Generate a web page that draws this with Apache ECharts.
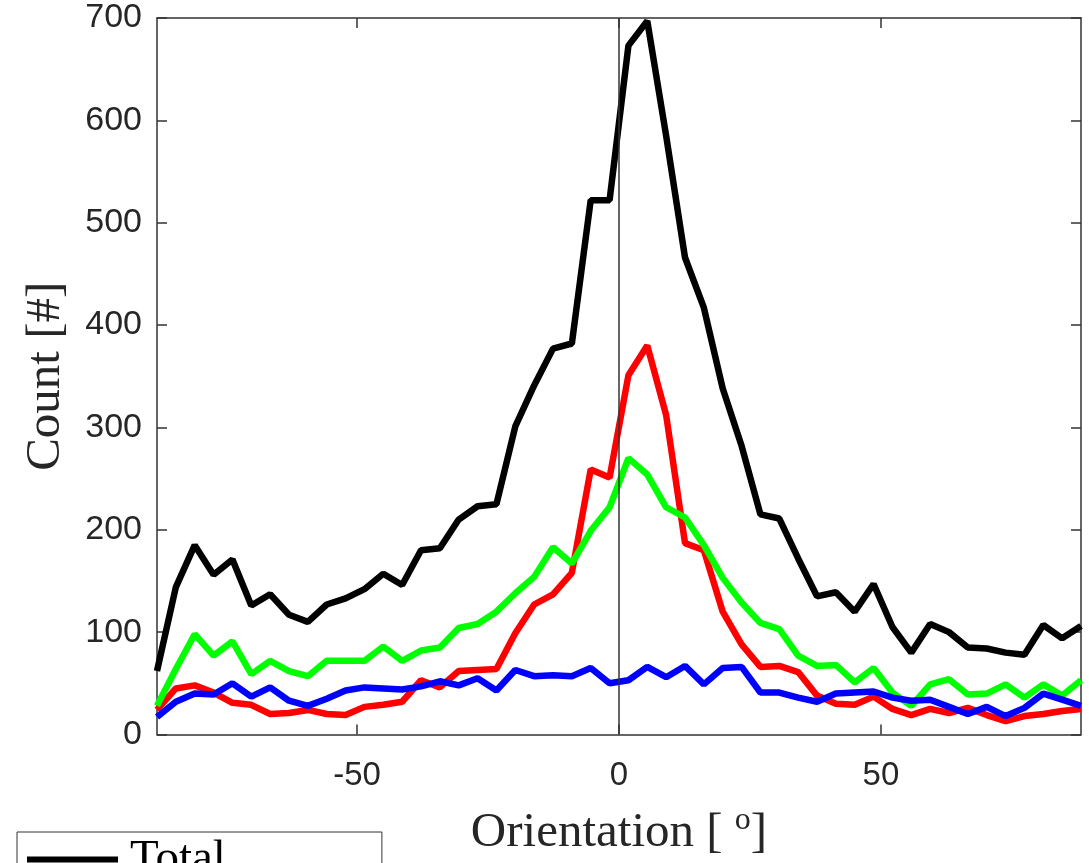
<!DOCTYPE html>
<html>
<head>
<meta charset="utf-8">
<script src="https://cdn.jsdelivr.net/npm/echarts@6/dist/echarts.min.js"></script>
<style>
html,body{margin:0;padding:0;background:#fff;}
#chart{width:1089px;height:863px;}
</style>
</head>
<body>
<div id="chart"></div>
<script>
// Bin centres (orientation, degrees)
const orientation = [-88.2,-84.6,-81,-77.4,-73.8,-70.2,-66.6,-63,-59.4,-55.8,-52.2,-48.6,-45,-41.4,-37.8,-34.2,-30.6,-27,-23.4,-19.8,-16.2,-12.6,-9,-5.4,-1.8,1.8,5.4,9,12.6,16.2,19.8,23.4,27,30.6,34.2,37.8,41.4,45,48.6,52.2,55.8,59.4,63,66.6,70.2,73.8,77.4,81,84.6,88.2];
// Counts
const total = [62,144,185,156,171,126,137,117,110,127,133,142,157,146,180,182,210,223,225,301,341,377,382,522,522,673,697,585,466,417,338,282,215,211,172,135,139,120,147,105,80,108,100,85,84,80,78,107,94,106];
const redVals = [24,45,48,41,31,29,20,21,24,20,19,27,29,32,53,46,62,63,64,99,127,137,158,259,251,351,380,312,187,180,120,88,66,67,61,38,30,29,37,25,19,25,21,26,19,13,18,20,23,25];
const greenVals = [28,64,98,77,91,59,72,62,57,72,72,72,86,72,82,85,104,108,120,138,154,183,167,199,222,270,254,222,212,185,153,129,109,103,77,67,68,51,65,41,28,49,54,39,40,49,36,49,38,53];
const blueVals = [17,32,40,39,50,37,46,33,28,35,43,46,45,44,47,52,48,55,43,63,57,58,57,65,50,53,66,56,67,49,65,66,41,41,36,32,40,41,42,36,33,34,27,20,27,18,26,40,34,28];
const xTicks = [-50, 0, 50];
const yTicks = [0, 100, 200, 300, 400, 500, 600, 700];
const zeroLine = [[0, 0], [0, 700]];

function pairs(vals) { return orientation.map((x, i) => [x, vals[i]]); }

const axisColor = '#333';
const sans = 'Liberation Sans';
const serif = 'Liberation Serif';

const chart = echarts.init(document.getElementById('chart'), null, {renderer: 'canvas'});
chart.setOption({
  animation: false,
  backgroundColor: '#fff',
  grid: {left: 157, right: 8, top: 18, bottom: 122, containLabel: false},
  legend: {
    data: [{name: 'Total', icon: 'rect'}],
    orient: 'vertical',
    left: 17, top: 832,
    itemWidth: 91, itemHeight: 6,
    padding: [4, 156, 100, 10],
    borderColor: '#333', borderWidth: 1,
    backgroundColor: '#fff',
    textStyle: {fontFamily: serif, fontSize: 47, color: '#000', padding: [0, 0, 0, 7]}
  },
  xAxis: [{
    type: 'value', position: 'bottom', min: -88.2, max: 88.2,
    axisLine: {show: true, onZero: false, lineStyle: {color: axisColor, width: 1.5}},
    axisTick: {show: true, inside: true, length: 10, customValues: xTicks, lineStyle: {color: axisColor, width: 1.5}},
    axisLabel: {customValues: xTicks, fontFamily: sans, fontSize: 33, color: '#262626', margin: 25},
    splitLine: {show: false},
    name: 'Orientation [ {sup|o}]', nameLocation: 'middle', nameGap: 70,
    nameTextStyle: {fontFamily: serif, fontSize: 49, color: '#262626',
      rich: {sup: {fontFamily: serif, fontSize: 32, color: '#262626', verticalAlign: 'top', padding: [0, 0, 26, 0]}}}
  }, {
    type: 'value', position: 'top', min: -88.2, max: 88.2,
    axisLine: {show: true, onZero: false, lineStyle: {color: axisColor, width: 1.5}},
    axisTick: {show: true, inside: true, length: 10, customValues: xTicks, lineStyle: {color: axisColor, width: 1.5}},
    axisLabel: {show: false},
    splitLine: {show: false}
  }],
  yAxis: [{
    type: 'value', position: 'left', min: 0, max: 700, interval: 100,
    axisLine: {show: true, onZero: false, lineStyle: {color: axisColor, width: 1.5}},
    axisTick: {show: true, inside: true, length: 10, lineStyle: {color: axisColor, width: 1.5}},
    axisLabel: {fontFamily: sans, fontSize: 34, color: '#262626', margin: 15},
    splitLine: {show: false},
    name: 'Count [#]', nameLocation: 'middle', nameGap: 86, nameRotate: 90,
    nameTextStyle: {fontFamily: serif, fontSize: 49, color: '#262626'}
  }, {
    type: 'value', position: 'right', min: 0, max: 700, interval: 100,
    axisLine: {show: true, onZero: false, lineStyle: {color: axisColor, width: 1.5}},
    axisTick: {show: true, inside: true, length: 10, lineStyle: {color: axisColor, width: 1.5}},
    axisLabel: {show: false},
    splitLine: {show: false}
  }],
  series: [
    {name: 'Total', type: 'line', data: pairs(total), showSymbol: false, symbol: 'none',
     lineStyle: {color: '#000', width: 6.5}, itemStyle: {color: '#000'}, z: 2},
    {name: 'red', type: 'line', data: pairs(redVals), showSymbol: false, symbol: 'none',
     lineStyle: {color: '#ff0000', width: 6.5}, itemStyle: {color: '#ff0000'}, z: 3},
    {name: 'green', type: 'line', data: pairs(greenVals), showSymbol: false, symbol: 'none',
     lineStyle: {color: '#00ff00', width: 6.5}, itemStyle: {color: '#00ff00'}, z: 4},
    {name: 'blue', type: 'line', data: pairs(blueVals), showSymbol: false, symbol: 'none',
     lineStyle: {color: '#0000ff', width: 6.5}, itemStyle: {color: '#0000ff'}, z: 5},
    {name: 'zero', type: 'line', data: zeroLine, showSymbol: false, symbol: 'none',
     lineStyle: {color: '#333', width: 1.5}, z: 6, silent: true}
  ]
});
</script>
</body>
</html>
